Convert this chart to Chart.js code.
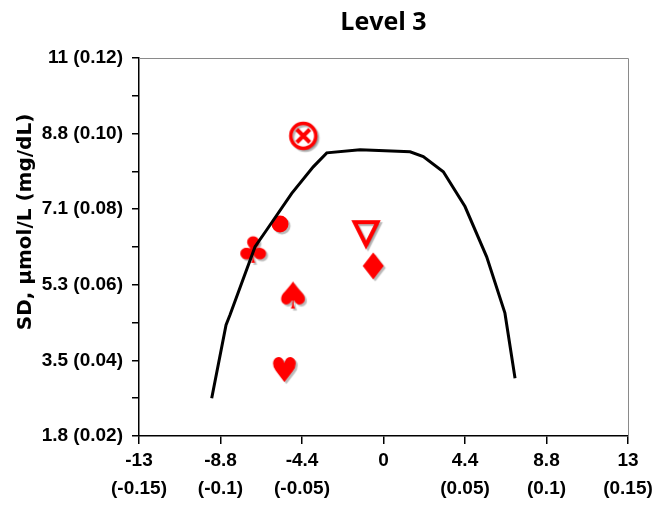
<!DOCTYPE html>
<html>
<head>
<meta charset="utf-8">
<script src="https://cdn.jsdelivr.net/npm/chart.js@4"></script>
<style>
  html, body { margin: 0; padding: 0; background: #fff; }
  #wrap { width: 655px; height: 509px; }
</style>
</head>
<body>
<div id="wrap"><canvas id="myChart"></canvas></div>
<script>
// chart texts
const chartTitle = 'Level 3';
const yAxisTitle = 'SD, μmol/L (mg/dL)';

// x axis (bias, mg/dL) and its two-line labels (µmol/L, mg/dL)
const xTickValues = [-0.15, -0.1, -0.05, 0, 0.05, 0.1, 0.15];
const xTickLabels = [['-13', '(-0.15)'], ['-8.8', '(-0.1)'], ['-4.4', '(-0.05)'], ['0', ''], ['4.4', '(0.05)'], ['8.8', '(0.1)'], ['13', '(0.15)']];

// y axis (SD, mg/dL)
const yTickValues = [0.02, 0.04, 0.06, 0.08, 0.10, 0.12];
const yTickLabels = ['1.8 (0.02)', '3.5 (0.04)', '5.3 (0.06)', '7.1 (0.08)', '8.8 (0.10)', '11 (0.12)'];

// acceptance limit curve
const curveX = [-0.1054, -0.0966, -0.0942, -0.0788, -0.0717, -0.0563, -0.0431, -0.0348, -0.0144, 0.0163, 0.0244, 0.0367, 0.05, 0.0633, 0.0745, 0.0807];
const curveY = [0.0300, 0.0494, 0.0520, 0.0701, 0.0745, 0.0842, 0.0912, 0.0949, 0.0957, 0.0952, 0.0939, 0.0899, 0.0807, 0.0674, 0.0525, 0.0353];

// laboratories / methods
const markerNames = ['xcircle', 'dot', 'club', 'triangle', 'diamond', 'spade', 'heart'];
const markerX = [-0.0492, -0.0635, -0.0799, -0.0107, -0.0063, -0.0557, -0.0609];
const markerY = [0.0994, 0.0761, 0.0694, 0.0734, 0.0650, 0.0573, 0.0376];

const RED = '#ff0000';
const tickFont = { family: '"Liberation Sans Narrow", "Liberation Sans", Arial, sans-serif', size: 19, weight: 'bold', lineHeight: 1.45 };

function markerCanvas(w, h, draw) {
    const pad = 4;
    const c = document.createElement('canvas');
    c.width = w + pad * 2;
    c.height = h + pad * 2;
    const ctx = c.getContext('2d');
    ctx.translate(c.width / 2, c.height / 2);
    ctx.shadowColor = 'rgba(0,0,0,0.28)';
    ctx.shadowOffsetX = 2;
    ctx.shadowOffsetY = 2;
    ctx.shadowBlur = 1;
    ctx.fillStyle = RED;
    ctx.strokeStyle = RED;
    draw(ctx);
    return c;
}

function glyph(ch, w, h) {
    return markerCanvas(w, h, ctx => {
        ctx.font = '100px "DejaVu Sans"';
        const m = ctx.measureText(ch);
        const gw = m.actualBoundingBoxLeft + m.actualBoundingBoxRight;
        const gh = m.actualBoundingBoxAscent + m.actualBoundingBoxDescent;
        ctx.scale(w / gw, h / gh);
        ctx.textBaseline = 'alphabetic';
        ctx.textAlign = 'left';
        ctx.fillText(ch, -gw / 2 + m.actualBoundingBoxLeft, gh / 2 - m.actualBoundingBoxDescent);
    });
}

const markerStyles = {
    xcircle: markerCanvas(30, 30, ctx => {
        ctx.fillStyle = '#fff';
        ctx.lineWidth = 3.5;
        ctx.beginPath();
        ctx.arc(0, 0, 12.5, 0, Math.PI * 2);
        ctx.fill();
        ctx.stroke();
        ctx.shadowColor = 'transparent';
        ctx.lineWidth = 4;
        ctx.beginPath();
        ctx.moveTo(-6.5, -6.5); ctx.lineTo(6.5, 6.5);
        ctx.moveTo(6.5, -6.5); ctx.lineTo(-6.5, 6.5);
        ctx.stroke();
    }),
    dot: markerCanvas(18, 18, ctx => {
        ctx.beginPath();
        ctx.arc(0, 0, 8.5, 0, Math.PI * 2);
        ctx.fill();
    }),
    club: glyph('\u2663', 26, 27),
    triangle: markerCanvas(30, 32, ctx => {
        ctx.fillStyle = '#fff';
        ctx.lineWidth = 4;
        ctx.lineJoin = 'miter';
        ctx.beginPath();
        ctx.moveTo(-11.5, -12);
        ctx.lineTo(11.5, -12);
        ctx.lineTo(0, 11);
        ctx.closePath();
        ctx.fill();
        ctx.stroke();
    }),
    diamond: markerCanvas(22, 28, ctx => {
        ctx.beginPath();
        ctx.moveTo(0, -13.5);
        ctx.lineTo(10.5, 0);
        ctx.lineTo(0, 13.5);
        ctx.lineTo(-10.5, 0);
        ctx.closePath();
        ctx.fill();
    }),
    spade: glyph('\u2660', 24, 27),
    heart: glyph('\u2665', 23, 25)
};

// title over the plot area, rotated y title, grey top/right frame
const decorations = {
    id: 'decorations',
    afterDraw(chart) {
        const { ctx, chartArea } = chart;
        ctx.save();
        ctx.strokeStyle = '#8a8a8a';
        ctx.lineWidth = 1;
        ctx.beginPath();
        ctx.moveTo(chartArea.left, chartArea.top + 0.5);
        ctx.lineTo(chartArea.right + 0.5, chartArea.top + 0.5);
        ctx.lineTo(chartArea.right + 0.5, chartArea.bottom);
        ctx.stroke();

        ctx.fillStyle = '#000';
        ctx.textAlign = 'center';
        ctx.textBaseline = 'alphabetic';
        ctx.font = 'bold 25px "Open Sans", sans-serif';
        ctx.fillText(chartTitle, (chartArea.left + chartArea.right) / 2, 30);

        ctx.translate(26, 222);
        ctx.rotate(-Math.PI / 2);
        ctx.textBaseline = 'middle';
        ctx.font = 'bold 20px "DejaVu Sans", sans-serif';
        ctx.fillText(yAxisTitle, 0, 0);
        ctx.restore();
    }
};

const ctx = document.getElementById('myChart');

new Chart(ctx, {
    data: {
        datasets: [{
            type: 'line',
            data: curveX.map((x, i) => ({ x: x, y: curveY[i] })),
            borderColor: '#000',
            borderWidth: 3,
            pointRadius: 0,
            tension: 0,
            fill: false
        }, {
            type: 'scatter',
            data: markerX.map((x, i) => ({ x: x, y: markerY[i] })),
            pointStyle: markerNames.map(n => markerStyles[n]),
            pointRadius: 14
        }]
    },
    plugins: [decorations],
    options: {
        responsive: true,
        maintainAspectRatio: false,
        animation: false,
        layout: { padding: { left: 0, right: 27, top: 58, bottom: 0 } },
        plugins: {
            legend: { display: false },
            tooltip: { enabled: false }
        },
        scales: {
            x: {
                type: 'linear',
                min: -0.15,
                max: 0.15,
                afterBuildTicks: scale => { scale.ticks = xTickValues.map(v => ({ value: v })); },
                afterFit: scale => {
                    scale.height = 73;
                    scale.paddingLeft = 0;
                    scale.paddingRight = 0;
                },
                ticks: {
                    autoSkip: false,
                    maxRotation: 0,
                    color: '#000',
                    font: tickFont,
                    padding: 3,
                    callback: (value, index) => xTickLabels[index]
                },
                grid: { drawOnChartArea: false, drawTicks: true, tickLength: 8, color: '#000', lineWidth: 1.5 },
                border: { color: '#000', width: 1.5 }
            },
            y: {
                type: 'linear',
                min: 0.02,
                max: 0.12,
                afterFit: scale => { scale.width = 139; },
                ticks: {
                    stepSize: 0.01,
                    autoSkip: false,
                    color: '#000',
                    font: tickFont,
                    padding: 9,
                    callback: value => {
                        const i = yTickValues.findIndex(v => Math.abs(v - value) < 1e-6);
                        return i >= 0 ? yTickLabels[i] : '';
                    }
                },
                grid: { drawOnChartArea: false, drawTicks: true, tickLength: 7, color: '#000', lineWidth: 1.5 },
                border: { color: '#000', width: 1.5 }
            }
        }
    }
});
</script>
</body>
</html>
